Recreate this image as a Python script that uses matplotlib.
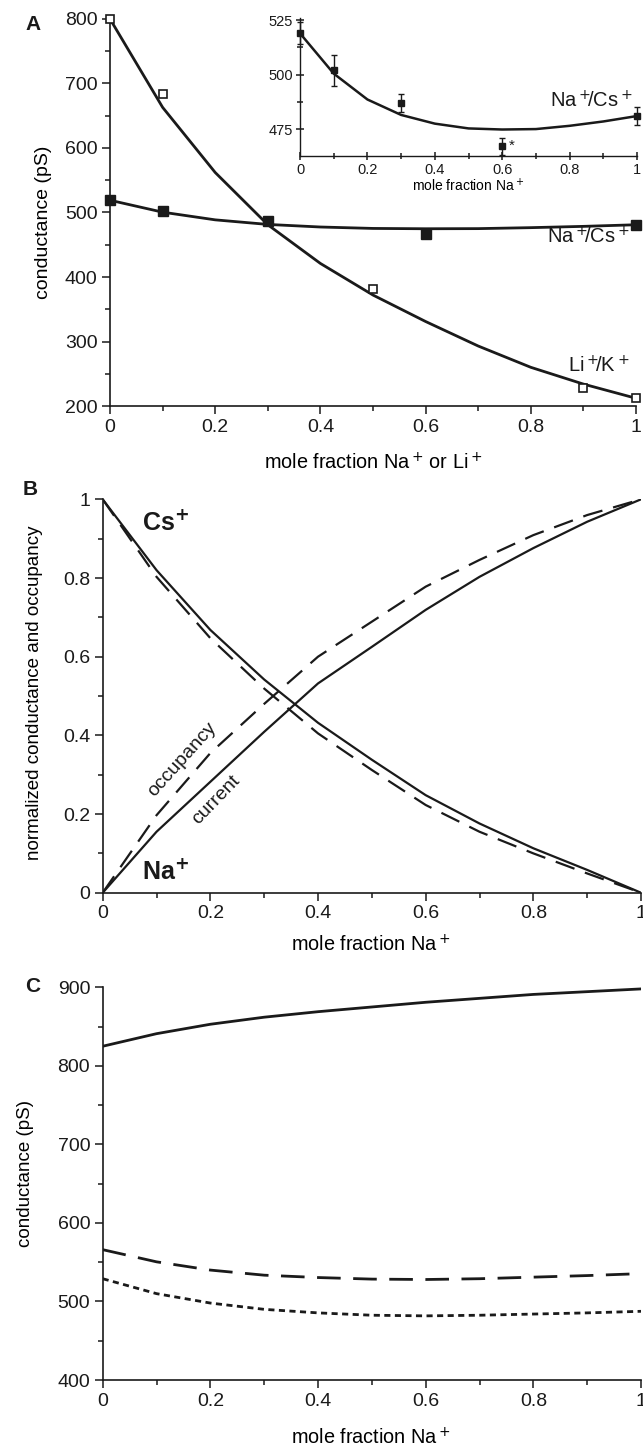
import matplotlib
matplotlib.use('Agg')
import matplotlib.pyplot as plt
from matplotlib.ticker import MultipleLocator

plt.rcParams['font.family'] = ['Liberation Sans Narrow', 'Liberation Sans', 'DejaVu Sans']
plt.rcParams['mathtext.fontset'] = 'custom'
plt.rcParams['mathtext.rm'] = 'Liberation Sans Narrow'
plt.rcParams['mathtext.bf'] = 'Liberation Sans Narrow:bold'
plt.rcParams['text.color'] = '#1a1a1a'

# ---- data ----
x_model = [0, 0.1, 0.2, 0.3, 0.4, 0.5, 0.6, 0.7, 0.8, 0.9, 1.0]
frac_ticks = [0, 0.2, 0.4, 0.6, 0.8, 1.0]
frac_labels = ['0', '0.2', '0.4', '0.6', '0.8', '1']

# panel A
likx = [0, 0.1, 0.5, 0.9, 1.0]
lik_data = [800, 684, 382, 228, 212]
lik_model = [800, 663, 562, 481, 421, 372, 331, 293, 260, 234, 212]
nacs_x = [0, 0.1, 0.3, 0.6, 1.0]
nacs_data = [519, 502, 487, 467, 481]
nacs_err = [5, 7, 4, 4, 4]
nacs_model = [519, 500.5, 488.6, 481.5, 477.5, 475.3, 474.8, 475, 476.5, 478.5, 481]

# panel B
cs_current = [1, 0.82, 0.668, 0.542, 0.432, 0.338, 0.248, 0.176, 0.113, 0.058, 0]
cs_occ = [1, 0.803, 0.647, 0.519, 0.405, 0.312, 0.223, 0.155, 0.10, 0.049, 0]
na_current = [0, 0.155, 0.282, 0.409, 0.532, 0.625, 0.719, 0.803, 0.876, 0.943, 1]
na_occ = [0, 0.197, 0.355, 0.48, 0.6, 0.689, 0.778, 0.846, 0.909, 0.96, 1]
b_ticks = [0, 0.2, 0.4, 0.6, 0.8, 1.0]
b_labels = ['0', '0.2', '0.4', '0.6', '0.8', '1']

# panel C
c_solid = [825, 841, 853, 862, 869, 875, 881, 886, 891, 894.5, 898]
c_dash = [566, 550.5, 540, 533.5, 530.5, 528.5, 528, 529, 531, 533, 535.5]
c_dot = [529, 510, 498, 490, 485.5, 482.5, 481.7, 482.5, 484, 485.5, 487.5]

K = '#1a1a1a'
NACS = 'Na$^+\\!\\!$/Cs$^+$'
LIK = 'Li$^+\\!\\!$/K$^+$'


def style(ax, lab=14, spw=1.2):
    for s in ['top', 'right']:
        ax.spines[s].set_visible(False)
    for s in ['left', 'bottom']:
        ax.spines[s].set_linewidth(spw)
        ax.spines[s].set_color(K)
    ax.tick_params(which='major', length=5.5, width=1.1, labelsize=lab, pad=3.5, colors=K)
    ax.tick_params(which='minor', length=3.5, width=1.1, colors=K)


fig = plt.figure(figsize=(6.43, 14.49), dpi=100)

# ---------------- A ----------------
axA = fig.add_axes([0.1711, 0.7198, 0.818, 0.2671])
style(axA)
axA.plot(x_model, lik_model, color=K, lw=2.0, zorder=2)
axA.plot(x_model, nacs_model, color=K, lw=2.0, zorder=2)
axA.plot(likx, lik_data, 's', ms=6, mfc='white', mec=K, mew=1.2, clip_on=False, zorder=3)
axA.plot(nacs_x, nacs_data, 's', ms=7.2, mfc=K, mec=K, clip_on=False, zorder=3)
axA.set_xlim(0, 1)
axA.set_ylim(200, 800)
axA.set_xticks(frac_ticks)
axA.set_xticklabels(frac_labels)
axA.xaxis.set_minor_locator(MultipleLocator(0.1))
axA.yaxis.set_major_locator(MultipleLocator(100))
axA.yaxis.set_minor_locator(MultipleLocator(50))
axA.set_xlabel('mole fraction Na$^+\\!$ or Li$^+$', fontsize=14.3, va='center')
axA.xaxis.set_label_coords(0.5, -0.147)
axA.set_ylabel('conductance (pS)', fontsize=14, va='center')
axA.yaxis.set_label_coords(-0.127, 0.475)
axA.text(0.988, 462, NACS, fontsize=14.5, ha='right', va='center')
axA.text(0.988, 262, LIK, fontsize=14.5, ha='right', va='center')
fig.text(33 / 643, 1 - 25 / 1449, 'A', fontsize=15, fontweight='bold', ha='center', va='center')

# inset
axI = fig.add_axes([0.4666, 0.8923, 0.5241, 0.0952])
axI.patch.set_alpha(0)
style(axI, lab=10.5, spw=1.0)
axI.tick_params(which='both', direction='inout')
axI.tick_params(which='major', length=6, pad=2)
axI.tick_params(which='minor', length=4)
axI.plot(x_model, nacs_model, color=K, lw=1.8, zorder=2)
axI.errorbar(nacs_x, nacs_data, yerr=nacs_err, fmt='s', ms=3.8, color=K, ecolor=K,
             elinewidth=1.0, capsize=2.5, capthick=1.0, clip_on=False, zorder=3)
axI.set_xlim(0, 1)
axI.set_ylim(462.6, 526)
axI.set_xticks(frac_ticks)
axI.set_xticklabels(frac_labels)
axI.xaxis.set_minor_locator(MultipleLocator(0.1))
axI.set_yticks([475, 500, 525])
axI.yaxis.set_minor_locator(MultipleLocator(12.5))
axI.set_xlabel('mole fraction Na$^+$', fontsize=10, labelpad=0)
axI.text(0.988, 483, NACS, fontsize=14.5, ha='right', va='bottom')
axI.text(0.62, 467.5, '*', fontsize=11, ha='left', va='center')

# ---------------- B ----------------
axB = fig.add_axes([0.1597, 0.3839, 0.8372, 0.2715])
style(axB)
axB.plot(x_model, cs_current, color=K, lw=1.6)
axB.plot(x_model, na_current, color=K, lw=1.6)
axB.plot(x_model, cs_occ, color=K, lw=1.6, dashes=(9, 5))
axB.plot(x_model, na_occ, color=K, lw=1.6, dashes=(9, 5))
axB.set_xlim(0, 1)
axB.set_ylim(0, 1)
axB.set_xticks(frac_ticks)
axB.set_xticklabels(frac_labels)
axB.xaxis.set_minor_locator(MultipleLocator(0.1))
axB.set_yticks(b_ticks)
axB.set_yticklabels(b_labels)
axB.yaxis.set_minor_locator(MultipleLocator(0.1))
axB.set_xlabel('mole fraction Na$^+$', fontsize=14.3, va='center')
axB.xaxis.set_label_coords(0.498, -0.133)
axB.set_ylabel('normalized conductance and occupancy', fontsize=13.5, va='center')
axB.yaxis.set_label_coords(-0.126, 0.508)
axB.text(0.073, 0.94, 'Cs$^\\mathbf{+}$', fontsize=18, fontweight='bold', ha='left', va='center')
axB.text(0.073, 0.053, 'Na$^\\mathbf{+}$', fontsize=18, fontweight='bold', ha='left', va='center')
axB.text(0.148, 0.338, 'occupancy', fontsize=14, rotation=48, ha='center', va='center')
axB.text(0.21, 0.236, 'current', fontsize=14, rotation=46, ha='center', va='center')
fig.text(30 / 643, 1 - 490 / 1449, 'B', fontsize=15, fontweight='bold', ha='center', va='center')

# ---------------- C ----------------
axC = fig.add_axes([0.1597, 0.0476, 0.8372, 0.2710])
style(axC)
axC.plot(x_model, c_solid, color=K, lw=2.0)
axC.plot(x_model, c_dash, color=K, lw=2.0, dashes=(8.5, 4.5))
axC.plot(x_model, c_dot, color=K, lw=2.0, dashes=(2.2, 1.6))
axC.set_xlim(0, 1)
axC.set_ylim(400, 900)
axC.set_xticks(frac_ticks)
axC.set_xticklabels(frac_labels)
axC.xaxis.set_minor_locator(MultipleLocator(0.1))
axC.yaxis.set_major_locator(MultipleLocator(100))
axC.yaxis.set_minor_locator(MultipleLocator(50))
axC.set_xlabel('mole fraction Na$^+$', fontsize=14.3, va='center')
axC.xaxis.set_label_coords(0.498, -0.148)
axC.set_ylabel('conductance (pS)', fontsize=13.5, va='center')
axC.yaxis.set_label_coords(-0.144, 0.527)
fig.text(33 / 643, 1 - 987 / 1449, 'C', fontsize=15, fontweight='bold', ha='center', va='center')

fig.savefig('out.png', dpi=100)
